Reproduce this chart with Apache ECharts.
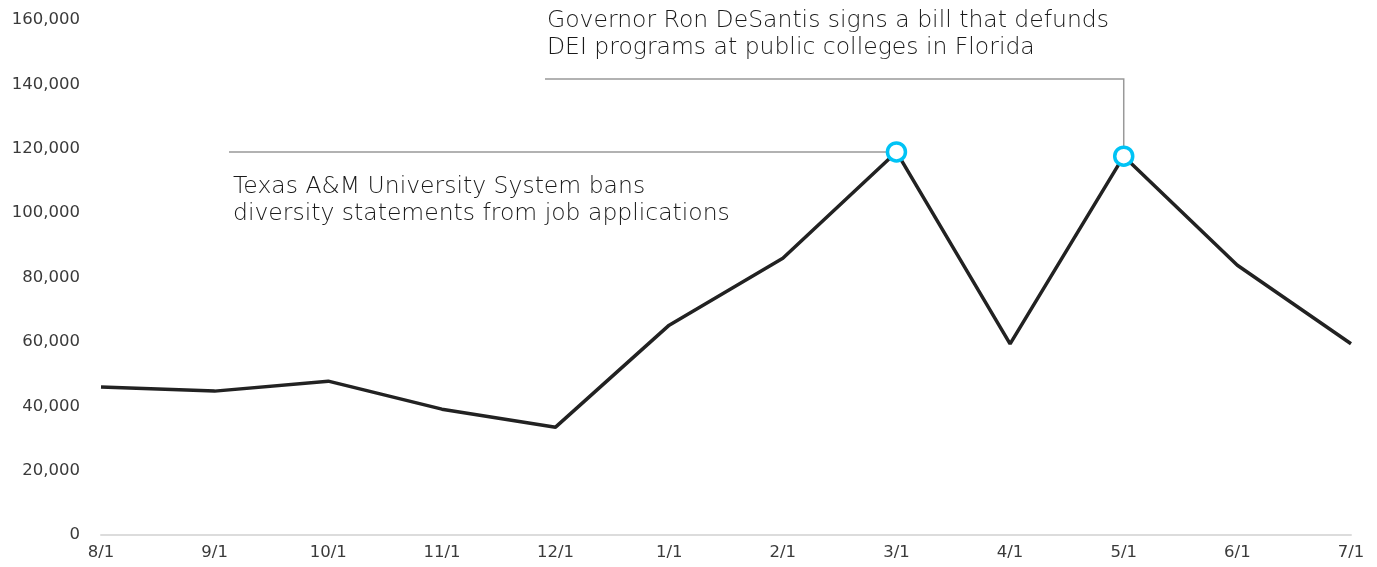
<!DOCTYPE html>
<html><head><meta charset="utf-8">
<script src="https://cdn.jsdelivr.net/npm/echarts@6/dist/echarts.min.js"></script>
<style>html,body{margin:0;padding:0;background:#fff}#c{width:1377px;height:567px}</style>
</head><body><div id="c"></div>
<script>
const categories = ['8/1','9/1','10/1','11/1','12/1','1/1','2/1','3/1','4/1','5/1','6/1','7/1'];
const values = [46000, 44700, 47800, 39100, 33500, 65200, 86000, 119000, 59400, 117700, 83800, 59400];
const highlighted = ['3/1','5/1'];
const yTicks = [0,20000,40000,60000,80000,100000,120000,140000,160000];
const noteTexas = 'Texas A&M University System bans\ndiversity statements from job applications';
const noteFlorida = 'Governor Ron DeSantis signs a bill that defunds\nDEI programs at public colleges in Florida';

const chart = echarts.init(document.getElementById('c'));
const lineData = values.map((v,i)=>{
  const hl = highlighted.includes(categories[i]);
  return hl ? {value:v, symbol:'circle', symbolSize:18,
    itemStyle:{color:'#fff', borderColor:'#00c3f5', borderWidth:3.5}} : {value:v, symbol:'none'};
});
const axisFont = '"DejaVu Sans", sans-serif';
chart.setOption({
  animation:false,
  grid:{left:101, right:26, top:20, bottom:32},
  xAxis:{type:'category', data:categories, boundaryGap:false,
    axisLine:{lineStyle:{color:'#dcdcdc', width:2}}, axisTick:{show:false},
    axisLabel:{color:'#3a3a3a', fontSize:16.5, fontFamily:axisFont, margin:9}},
  yAxis:{type:'value', min:yTicks[0], max:yTicks[yTicks.length-1], interval:yTicks[1]-yTicks[0],
    axisLine:{show:false}, axisTick:{show:false}, splitLine:{show:false},
    axisLabel:{color:'#3a3a3a', fontSize:16.5, fontFamily:axisFont, margin:21,
      formatter:v=>v.toLocaleString('en-US')}},
  series:[{type:'line', data:lineData, lineStyle:{color:'#222', width:3.5}, z:3,
    showSymbol:true, showAllSymbol:true}]
});
const p3 = chart.convertToPixel({seriesIndex:0}, [7, values[7]]);
const p5 = chart.convertToPixel({seriesIndex:0}, [9, values[9]]);
const r = 9;
const textStyle = {fill:'#1a1a1a', font:'200 23.5px "DejaVu Sans", sans-serif', lineHeight:27};
chart.setOption({graphic:[
  {type:'polyline', z:1, shape:{points:[[229,p3[1]],[p3[0]-r,p3[1]]]}, style:{stroke:'#999', lineWidth:1.5}},
  {type:'polyline', z:1, shape:{points:[[545,79],[p5[0],79],[p5[0],p5[1]-r]]}, style:{stroke:'#999', lineWidth:1.5}},
  {type:'text', left:233, top:173, style:Object.assign({text:noteTexas}, textStyle)},
  {type:'text', left:547, top:7, style:Object.assign({text:noteFlorida}, textStyle)}
]});
</script></body></html>
